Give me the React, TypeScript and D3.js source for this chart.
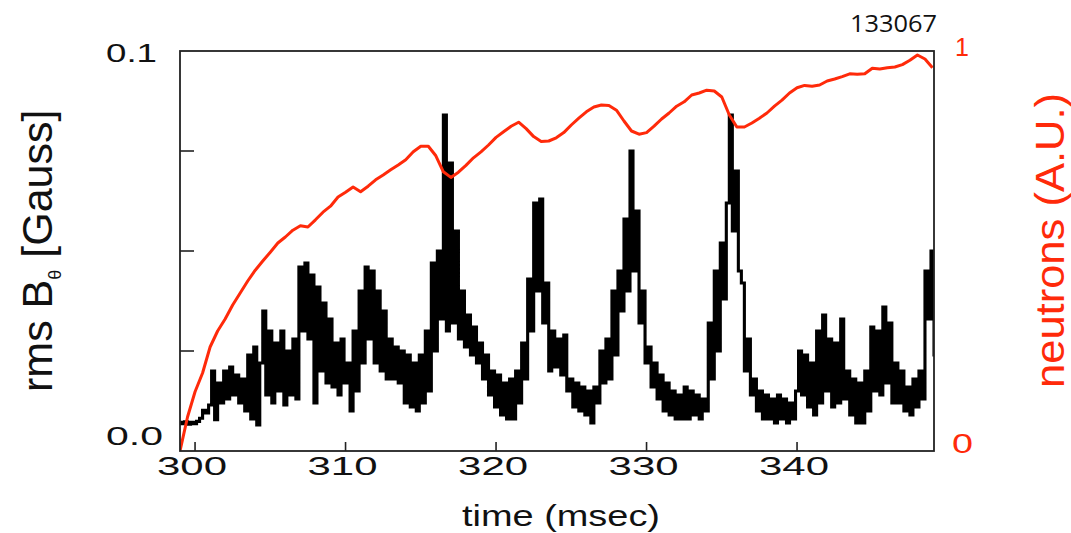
import React from "react";
import * as d3 from "d3";

// ---- data ----
const timeStart = 299; // msec, first sample
const rmsStep = 0.2; // msec between rms samples
// rms B_theta in milli-Gauss
const rmsB_mG = [
  7.2, 6.8, 7.3, 6.7, 7.2, 6.8, 7.4, 8.2, 10.2, 9.5, 11.5, 20, 7.8, 17, 12, 20, 13, 21, 14, 19,
  12, 18, 10, 24, 8, 26, 6.5, 22, 35, 14, 30, 12, 27, 15, 30, 11.5, 25, 14, 28, 13,
  46, 30, 47, 28, 44, 12, 41, 20, 37, 17, 33, 16, 27, 14, 28, 17, 22, 10, 30, 15,
  40, 22, 46, 28, 45, 22, 40, 20, 35, 18, 28, 18, 26, 17, 25, 12, 24, 11, 22, 10,
  24, 12, 30, 15, 47, 25, 50, 33, 84, 30, 72, 32, 55, 28, 40, 26, 34, 24, 31, 22,
  27, 18, 24, 14, 20, 11, 19, 9, 17, 8, 18, 8, 20, 12, 27, 18, 43, 30, 62, 40,
  63, 32, 42, 20, 30, 21, 28, 19, 29, 15, 18, 11, 17, 10, 16, 9, 15, 7, 16, 12,
  25, 17, 28, 18, 40, 24, 45, 35, 58, 40, 75, 45, 60, 32, 40, 22, 26, 16, 22, 13,
  19, 10, 17, 9, 15, 8, 14, 8, 16, 8, 15, 9, 14, 8, 13, 10, 32, 18, 45, 25,
  52, 38, 62, 84, 55, 70, 45, 42, 20, 28, 14, 18, 10, 15, 8, 14, 8, 13, 7, 14,
  8, 13, 7, 12, 8, 15, 25, 14, 24, 11, 22, 9, 30, 12, 34, 15, 28, 11, 27, 12,
  33, 13, 20, 9, 18, 7, 17, 7, 20, 10, 31, 15, 30, 14, 36, 17, 32, 12, 22, 12,
  20, 10, 16, 9, 18, 11, 20, 13, 45, 33, 50, 24,
];
const neutronStep = 0.5; // msec between neutron samples
// neutron rate, arbitrary units (0..1)
const neutrons = [
  0.0, 0.085, 0.148, 0.195, 0.26, 0.3, 0.33, 0.365, 0.395, 0.425,
  0.452, 0.475, 0.497, 0.52, 0.535, 0.552, 0.563, 0.56, 0.578, 0.597,
  0.612, 0.635, 0.647, 0.66, 0.648, 0.662, 0.678, 0.69, 0.703, 0.715,
  0.728, 0.748, 0.762, 0.762, 0.738, 0.698, 0.684, 0.697, 0.714, 0.733,
  0.748, 0.765, 0.784, 0.798, 0.812, 0.822, 0.806, 0.786, 0.774, 0.775,
  0.783, 0.796, 0.815, 0.832, 0.848, 0.86, 0.865, 0.864, 0.852, 0.825,
  0.8, 0.792, 0.796, 0.812, 0.83, 0.845, 0.862, 0.873, 0.89, 0.895,
  0.902, 0.9, 0.885, 0.84, 0.81, 0.81, 0.82, 0.832, 0.845, 0.862,
  0.877, 0.895, 0.908, 0.914, 0.912, 0.915, 0.925, 0.93, 0.936, 0.943,
  0.942, 0.943, 0.957, 0.955, 0.958, 0.96, 0.966, 0.977, 0.99, 0.98,
  0.958,
];
const timeTicks = [300, 310, 320, 330, 340];
const timeTickLabels = ["300", "310", "320", "330", "340"];
const rmsMinorTicks = [0.025, 0.05, 0.075];
const rmsLabelValues = [0, 0.1];
const rmsLabels = ["0.0", "0.1"];
const neutronLabelValues = [0, 1];
const neutronLabels = ["0", "1"];
const shotNumber = "133067";

const RED = "#ff2a0a";

export default function App() {
  const W = 1071, H = 533;
  const left = 180, right = 934, top = 51, bottom = 451;
  const x = d3.scaleLinear().domain([299, 349.1]).range([left, right]);
  const yB = d3.scaleLinear().domain([0, 0.1]).range([bottom, top]);
  const yN = d3.scaleLinear().domain([0, 1]).range([bottom, top]);

  const bLine = d3
    .line<number>()
    .x((_, i) => x(timeStart + i * rmsStep))
    .y((v) => yB(v * 1e-3))
    .curve(d3.curveStep);
  const nLine = d3
    .line<number>()
    .x((_, i) => x(timeStart + i * neutronStep))
    .y((v) => yN(v))
    .curve(d3.curveLinear);

  const sans = "'Liberation Sans', Arial, Helvetica, sans-serif";

  return (
    <svg
      width={W}
      height={H}
      style={{ position: "absolute", left: 0, top: 0, background: "#fff" }}
    >
      <defs>
        <clipPath id="plotclip">
          <rect x={left} y={top - 2} width={right - left} height={bottom - top + 2} />
        </clipPath>
      </defs>
      <rect x={0} y={0} width={W} height={H} fill="#fff" />
      <g clipPath="url(#plotclip)">
        <path d={bLine(rmsB_mG) || ""} fill="none" stroke="#000" strokeWidth={3.1} strokeLinejoin="miter" />
        <path d={nLine(neutrons) || ""} fill="none" stroke={RED} strokeWidth={3} strokeLinejoin="round" />
      </g>
      {/* frame */}
      <rect x={left} y={top} width={right - left} height={bottom - top} fill="none" stroke="#222" strokeWidth={1.8} />
      {/* left minor ticks */}
      {rmsMinorTicks.map((v) => (
        <line key={v} x1={left} x2={left + 14} y1={yB(v)} y2={yB(v)} stroke="#222" strokeWidth={1.6} />
      ))}
      {/* bottom ticks */}
      {timeTicks.map((t) => (
        <line key={t} x1={x(t)} x2={x(t)} y1={bottom} y2={bottom - 9} stroke="#222" strokeWidth={1.6} />
      ))}
      {/* left labels */}
      {rmsLabelValues.map((v, i) => (
        <text
          key={v}
          x={106}
          y={v === 0 ? yB(v) - 6 : yB(v) + 11}
          fontFamily={sans}
          fontSize={25}
          textLength={rmsLabels[i].endsWith("1") ? 51 : 57}
          lengthAdjust="spacingAndGlyphs"
          fill="#111"
        >
          {rmsLabels[i]}
        </text>
      ))}
      {/* bottom labels */}
      {timeTicks.map((t, i) => (
        <text
          key={t}
          x={x(t) - 38}
          y={475}
          fontFamily={sans}
          fontSize={25}
          textLength={70}
          lengthAdjust="spacingAndGlyphs"
          fill="#111"
        >
          {timeTickLabels[i]}
        </text>
      ))}
      {/* right labels */}
      {neutronLabelValues.map((v, i) => (
        <text
          key={v}
          x={v === 0 ? 952 : 955}
          y={v === 0 ? yN(v) + 2 : yN(v) + 5}
          fontFamily={sans}
          fontSize={v === 0 ? 27 : 25}
          textLength={v === 0 ? 21 : undefined}
          lengthAdjust={v === 0 ? "spacingAndGlyphs" : undefined}
          fill={RED}
        >
          {neutronLabels[i]}
        </text>
      ))}
      {/* shot number */}
      <text x={850} y={32} fontFamily="'Open Sans', sans-serif" fontSize={23} textLength={87} lengthAdjust="spacingAndGlyphs" fill="#111">
        {shotNumber}
      </text>
      {/* x title */}
      <text x={462} y={526} fontFamily={sans} fontSize={29} textLength={198} lengthAdjust="spacingAndGlyphs" fill="#111">
        time (msec)
      </text>
      {/* left title */}
      <text transform="translate(52,392) rotate(-90)" fontFamily={sans} fontSize={43} fill="#111">
        rms B
        <tspan fontSize={18} dy={9}>θ</tspan>
        <tspan dy={-9}> [Gauss]</tspan>
      </text>
      {/* right title */}
      <text transform="translate(1064,388) rotate(-90)" fontFamily={sans} fontSize={40} textLength={295} lengthAdjust="spacingAndGlyphs" fill={RED}>
        neutrons (A.U.)
      </text>
    </svg>
  );
}
